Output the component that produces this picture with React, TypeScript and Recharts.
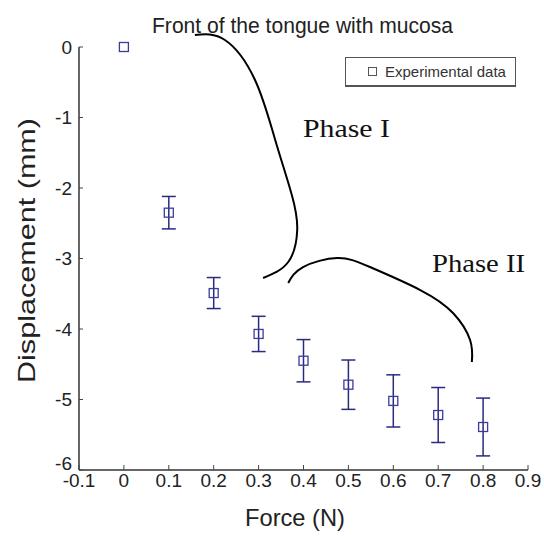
import {
  ComposedChart,
  Scatter,
  Line,
  XAxis,
  YAxis,
  ErrorBar,
  ReferenceLine,
} from "recharts";

const forces = [0, 0.1, 0.2, 0.3, 0.4, 0.5, 0.6, 0.7, 0.8];
const displacements = [0, -2.35, -3.49, -4.07, -4.45, -4.79, -5.02, -5.22, -5.39];
const errors = [0, 0.23, 0.22, 0.25, 0.3, 0.35, 0.37, 0.39, 0.41];

const xTicks = [-0.1, 0, 0.1, 0.2, 0.3, 0.4, 0.5, 0.6, 0.7, 0.8, 0.9];
const yTicks = [-6, -5, -4, -3, -2, -1, 0];

// hand-drawn brackets, in data units
const phase1X = [0.158, 0.225, 0.292, 0.337, 0.374, 0.386, 0.366, 0.31];
const phase1Y = [0.17, 0.099, -0.468, -1.319, -2.099, -2.596, -3.05, -3.277];
const phase2X = [0.366, 0.399, 0.475, 0.548, 0.66, 0.733, 0.771, 0.775];
const phase2Y = [-3.348, -3.121, -2.993, -3.121, -3.447, -3.773, -4.156, -4.468];

const points = forces.map((x, i) => ({ x, y: displacements[i], err: errors[i] }));
const phase1 = phase1X.map((x, i) => ({ x, y: phase1Y[i] }));
const phase2 = phase2X.map((x, i) => ({ x, y: phase2Y[i] }));

const MARKER = "#3b3b9e";
const SANS = "'Liberation Sans', Arial, sans-serif";
const SERIF = "'Liberation Serif', 'Times New Roman', serif";
const TICK = { fill: "#222", fontSize: 19, fontFamily: SANS };

const Square = (props: any) => {
  const { cx, cy } = props;
  if (cx == null || cy == null) return null;
  return (
    <rect x={cx - 4.5} y={cy - 4.5} width={9} height={9} fill="none" stroke={MARKER} strokeWidth={1.3} />
  );
};

// y tick label; the bottom one sits higher so it clears -0.1
const YTick = (props: any) => {
  const { x, y, payload } = props;
  const lift = payload.value === -6 ? 7 : 0;
  return (
    <text x={x} y={y - lift} dy="0.355em" textAnchor="end" {...TICK}>
      {payload.value}
    </text>
  );
};

export default function App() {
  return (
    <div style={{ position: "absolute", left: 0, top: 0, width: 544, height: 536, background: "#fff" }}>
      <ComposedChart width={544} height={536} margin={{ top: 18.8, right: 16, bottom: 0, left: 0 }}>
        <XAxis
          type="number"
          dataKey="x"
          domain={[-0.1, 0.9]}
          ticks={xTicks}
          height={66}
          tick={TICK}
          tickSize={-5}
          tickMargin={9}
          axisLine={{ stroke: "#333", strokeWidth: 1.5 }}
          tickLine={{ stroke: "#444" }}
        />
        <YAxis
          type="number"
          domain={[-6, 0.4]}
          ticks={yTicks}
          width={79}
          tick={<YTick />}
          tickSize={-4}
          tickMargin={11}
          axisLine={false}
          tickLine={{ stroke: "#444" }}
        />
        <ReferenceLine
          segment={[
            { x: -0.1, y: -6 },
            { x: -0.1, y: 0 },
          ]}
          stroke="#333"
          strokeWidth={1.5}
        />
        <Line
          data={phase1}
          dataKey="y"
          type="natural"
          stroke="#000"
          strokeWidth={2}
          dot={false}
          activeDot={false}
          isAnimationActive={false}
        />
        <Line
          data={phase2}
          dataKey="y"
          type="natural"
          stroke="#000"
          strokeWidth={2}
          dot={false}
          activeDot={false}
          isAnimationActive={false}
        />
        <Scatter data={points} dataKey="y" shape={Square} isAnimationActive={false}>
          <ErrorBar dataKey="err" direction="y" width={7} stroke="#2a2a80" strokeWidth={1.5} />
        </Scatter>
      </ComposedChart>

      {/* legend box */}
      <div
        style={{
          position: "absolute",
          left: 345,
          top: 57,
          width: 171,
          height: 30,
          border: "1.5px solid #555",
          borderBottomWidth: 2.5,
          background: "#fff",
          display: "flex",
          alignItems: "center",
          fontFamily: SANS,
          fontSize: 15,
          color: "#333",
          boxSizing: "border-box",
        }}
      >
        <span
          style={{
            display: "inline-block",
            width: 7,
            height: 7,
            border: "1.3px solid #555",
            marginLeft: 22,
            marginRight: 8,
          }}
        />
        <span>Experimental data</span>
      </div>

      <svg width={544} height={536} style={{ position: "absolute", left: 0, top: 0, pointerEvents: "none" }}>
        <text x={152} y={33} fontSize={22} fontFamily={SANS} fill="#222" textLength={301} lengthAdjust="spacingAndGlyphs">
          Front of the tongue with mucosa
        </text>
        <text x={245} y={526} fontSize={24} fontFamily={SANS} fill="#222" textLength={100} lengthAdjust="spacingAndGlyphs">
          Force (N)
        </text>
        <text
          transform="translate(35, 383) rotate(-90)"
          fontSize={24}
          fontFamily={SANS}
          fill="#222"
          textLength={265}
          lengthAdjust="spacingAndGlyphs"
        >
          Displacement (mm)
        </text>
        <text x={303} y={137} fontSize={25} fontFamily={SERIF} fontWeight={400} fill="#111" textLength={87} lengthAdjust="spacingAndGlyphs">
          Phase I
        </text>
        <text x={432} y={272} fontSize={26} fontFamily={SERIF} fontWeight={400} fill="#111" textLength={93} lengthAdjust="spacingAndGlyphs">
          Phase II
        </text>
      </svg>
    </div>
  );
}
